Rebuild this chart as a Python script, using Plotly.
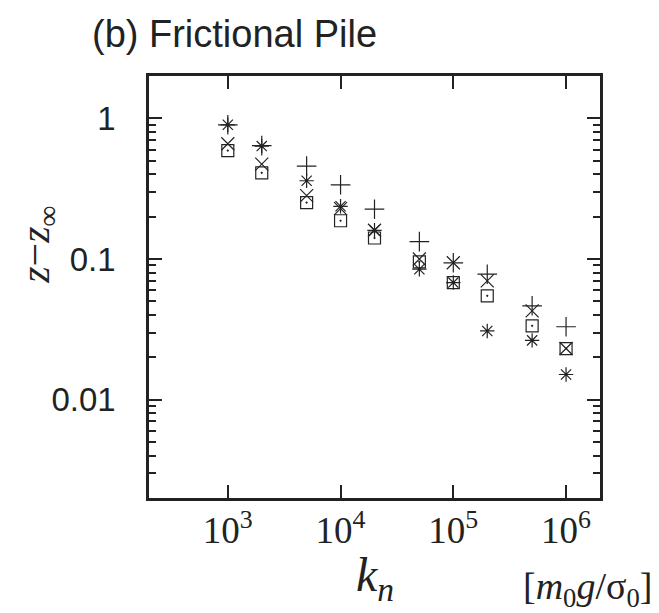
import plotly.graph_objects as go

# ---- data ----
kn = [1e3, 2e3, 5e3, 1e4, 2e4, 5e4, 1e5, 2e5, 5e5, 1e6]
plus_vals = [0.90, 0.64, 0.458, 0.337, 0.226, 0.133, 0.094, 0.078, 0.0465, 0.033]
cross_vals = [0.66, 0.473, 0.282, 0.228, 0.160, 0.100, 0.094, 0.070, 0.0428, 0.0231]
aster_vals = [0.90, 0.635, 0.36, 0.237, 0.160, 0.0846, 0.068, 0.0308, 0.0264, 0.0151]
square_vals = [0.59, 0.41, 0.252, 0.187, 0.141, 0.0955, 0.068, 0.0547, 0.0335, 0.0231]

x_tickvals = [1e3, 1e4, 1e5, 1e6]
x_ticktext = ["10<sup>3</sup>", "10<sup>4</sup>", "10<sup>5</sup>", "10<sup>6</sup>"]
y_tickvals = [0.01, 0.1, 1]
y_ticktext = ["0.01", "0.1", "1"]
y_minor = [m * 10 ** e for e in (-3, -2, -1, 0) for m in range(2, 10) if m * 10 ** e < 2]

INK = "#222222"
series = [
    (plus_vals, "cross-thin-open", 14),
    (cross_vals, "x-thin-open", 13),
    (aster_vals, "asterisk-open", 12),
    (square_vals, "square-open-dot", 12),
]

fig = go.Figure()
for vals, sym, sz in series:
    fig.add_trace(go.Scatter(
        x=kn, y=vals, mode="markers",
        marker=dict(symbol=sym, size=sz, color=INK,
                    line=dict(color=INK, width=1.2)),
        showlegend=False,
    ))

fig.update_layout(
    width=659, height=613,
    margin=dict(l=141, r=67, t=68, b=123),
    paper_bgcolor="white", plot_bgcolor="white",
    showlegend=False,
)

fig.update_xaxes(
    type="log", range=[2.301, 6.301],
    tickvals=x_tickvals, ticktext=x_ticktext,
    ticks="inside", ticklen=13, tickwidth=2, tickcolor=INK,
    showline=True, linewidth=2.5, linecolor=INK, mirror="ticks",
    showgrid=False, zeroline=False,
    tickfont=dict(family="Liberation Serif", size=37, color=INK),
    ticklabelstandoff=-2,
)
fig.update_yaxes(
    type="log", range=[-2.699, 0.301],
    tickvals=y_tickvals, ticktext=y_ticktext,
    ticks="inside", ticklen=13, tickwidth=2, tickcolor=INK,
    minor=dict(tickvals=y_minor, ticks="inside", ticklen=7, tickwidth=2, tickcolor=INK, showgrid=False),
    showline=True, linewidth=2.5, linecolor=INK, mirror="ticks",
    showgrid=False, zeroline=False,
    tickfont=dict(family="Liberation Sans", size=33, color=INK),
    ticklabelstandoff=24,
)

fig.add_annotation(
    text="(b) Frictional Pile", xref="paper", yref="paper",
    x=-0.131, y=1.10, xanchor="left", yanchor="middle", showarrow=False,
    font=dict(family="Liberation Sans", size=38, color=INK),
)
fig.add_annotation(
    text="<i>z</i>−<i>z</i><sub>∞</sub>", xref="paper", yref="paper",
    x=-0.246, y=0.60, xanchor="center", yanchor="middle", textangle=-90,
    showarrow=False, borderpad=0,
    font=dict(family="Liberation Serif", size=42, color=INK),
)
fig.add_annotation(
    text="<i>k<sub>n</sub></i>", xref="paper", yref="paper",
    x=0.50, y=-0.116, xanchor="center", yanchor="top", showarrow=False,
    borderpad=0,
    font=dict(family="Liberation Serif", size=48, color=INK),
)
fig.add_annotation(
    text="[<i>m</i><sub>0</sub><i>g</i>/σ<sub>0</sub>]", xref="paper", yref="paper",
    x=0.972, y=-0.215, xanchor="center", yanchor="middle", showarrow=False,
    font=dict(family="Liberation Serif", size=38, color=INK),
)

fig.write_html("out.html")
